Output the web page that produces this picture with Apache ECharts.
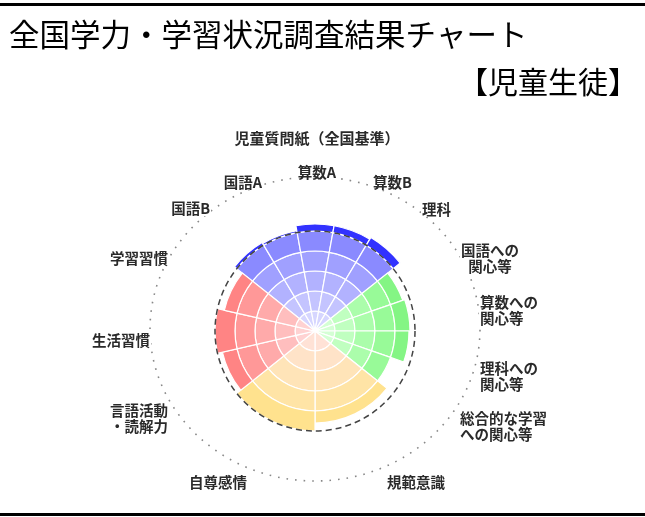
<!DOCTYPE html>
<html><head><meta charset="utf-8">
<script src="https://cdn.jsdelivr.net/npm/echarts@6/dist/echarts.min.js"></script>
<style>html,body{margin:0;padding:0;background:#fff}#c{width:645px;height:517px}</style>
</head><body><div id="c"></div>
<script>
// ---- data ----
const academicNames = ['国語B', '国語A', '算数A', '算数B', '理科'];
const academicValues = [103, 102, 107, 107, 109];
const interestNames = ['国語への関心等', '算数への関心等', '理科への関心等', '総合的な学習への関心等'];
const interestValues = [93, 95, 94, 80];
const attitudeNames = ['規範意識', '自尊感情'];
const attitudeValues = [92, 100];
const habitNames = ['言語活動・読解力', '生活習慣', '学習習慣'];
const habitValues = [95, 100, 93];
const baseline = 100;                 // 全国基準
const ringTicks = [0, 20, 40, 60, 80, 100];
const titleText = '全国学力・学習状況調査結果チャート';
const subtitleText = '【児童生徒】';
const legendText = '児童質問紙（全国基準）';

// ---- layout / style ----
const groups = [
  {names: academicNames, values: academicValues, spanUnits: 4,
   colors: ['#d6d6ff', '#c4c4ff', '#b2b2ff', '#a0a0ff', '#8a8aff'], over: '#3232ff'},
  {names: interestNames, values: interestValues, spanUnits: 3,
   colors: ['#d4ffd4', '#c0ffc0', '#abfdab', '#98fa98', '#84f584'], over: '#22cc22'},
  {names: attitudeNames, values: attitudeValues, spanUnits: 4,
   colors: ['#ffe2d6', '#ffe3c8', '#ffe4b8', '#ffe4a6', '#ffe28e'], over: '#ffb000'},
  {names: habitNames, values: habitValues, spanUnits: 3,
   colors: ['#ffd2d2', '#ffbebe', '#ffaaaa', '#ff9898', '#ff8484'], over: '#ff2020'}
];
const unitDeg = 360 / 14;
const startDeg = -2 * unitDeg;

const labelLayout = {
  '算数A': [317, 172, 'center'],
  '算数B': [372, 182, 'left'],
  '理科': [421, 209, 'left'],
  '国語への関心等': [490, 258, 'center', '国語への\n関心等'],
  '算数への関心等': [479, 310, 'left', '算数への\n関心等'],
  '理科への関心等': [479, 376, 'left', '理科への\n関心等'],
  '総合的な学習への関心等': [459, 426, 'left', '総合的な学習\nへの関心等'],
  '規範意識': [386, 482, 'left'],
  '自尊感情': [248, 482, 'right'],
  '言語活動・読解力': [169, 418, 'right', '言語活動\n・読解力'],
  '生活習慣': [151, 340, 'right'],
  '学習習慣': [169, 258, 'right'],
  '国語B': [211, 208, 'right'],
  '国語A': [263, 182, 'right']
};

const FONT = '"Noto Sans CJK JP", "Noto Sans", sans-serif';

// build sector data: [value, startAngle, endAngle, groupIndex]
const sectorData = [];
let a = startDeg;
groups.forEach((g, gi) => {
  const w = g.spanUnits * unitDeg / g.values.length;
  g.values.forEach((v, i) => {
    sectorData.push({name: g.names[i], value: [v, a, a + w, gi]});
    a += w;
  });
});

function renderItem(params, api) {
  const v = api.value(0), a0 = api.value(1), a1 = api.value(2), gi = api.value(3);
  const cs = params.coordSys;
  const p = api.coord([baseline, a0]);
  const s = Math.atan2(p[1] - cs.cy, p[0] - cs.cx);
  const e = s + (a1 - a0) * Math.PI / 180;
  const R = r => api.coord([r, a0])[2];
  const g = groups[gi];
  const children = [];
  for (let i = 0; i < ringTicks.length - 1; i++) {
    const lo = ringTicks[i], hi = Math.min(v, ringTicks[i + 1]);
    if (hi <= lo) break;
    children.push({type: 'sector',
      shape: {cx: cs.cx, cy: cs.cy, r0: R(lo), r: R(hi), startAngle: s, endAngle: e, clockwise: true},
      style: {fill: g.colors[i], stroke: '#fff', lineWidth: 1.2}});
  }
  if (v > baseline) {
    children.push({type: 'sector',
      shape: {cx: cs.cx, cy: cs.cy, r0: R(baseline), r: R(v), startAngle: s, endAngle: e, clockwise: true},
      style: {fill: g.over, stroke: '#fff', lineWidth: 1.2}});
  }
  return {type: 'group', children};
}

const graphics = [
  {type: 'rect', shape: {x: 0, y: 3, width: 645, height: 3}, style: {fill: '#000'}},
  {type: 'rect', shape: {x: 0, y: 513, width: 645, height: 3}, style: {fill: '#000'}},
  {type: 'ellipse', shape: {cx: 315, cy: 329, rx: 165, ry: 152}, z: 1,
   style: {fill: null, stroke: '#888', lineWidth: 1.6, lineDash: [1.6, 7]}}
];
groups.forEach(g => g.names.forEach(n => {
  const L = labelLayout[n];
  graphics.push({type: 'text', z: 5, style: {
    text: L[3] || n, x: L[0], y: L[1], align: L[2], verticalAlign: 'middle',
    font: 'bold 14.5px ' + FONT, fill: '#2a2a2a', lineHeight: 16,
    backgroundColor: '#fff', padding: [0, 1]
  }});
}));

const chart = echarts.init(document.getElementById('c'), null, {renderer: 'canvas'});
chart.setOption({
  animation: false,
  backgroundColor: '#fff',
  title: [
    {text: titleText, left: 4, top: 14, textStyle: {fontSize: 30.5, fontWeight: 'normal', color: '#000', fontFamily: FONT}},
    {text: subtitleText, right: 2, top: 62, textStyle: {fontSize: 30, fontWeight: 'normal', color: '#000', fontFamily: FONT}},
    {text: legendText, left: 312, textAlign: 'center', top: 126, textStyle: {fontSize: 15, fontWeight: 'bold', color: '#2a2a2a', fontFamily: FONT}}
  ],
  polar: {center: [315, 331], radius: 100},
  angleAxis: {type: 'value', min: 0, max: 360, startAngle: 90, clockwise: true, z: 6,
    axisLine: {show: true, lineStyle: {color: '#444', width: 1.5, type: [6, 4]}},
    axisTick: {show: false}, axisLabel: {show: false}, splitLine: {show: false}},
  radiusAxis: {type: 'value', min: 0, max: baseline, show: false,
    axisLine: {show: false}, axisTick: {show: false}, axisLabel: {show: false}, splitLine: {show: false}},
  series: [{
    type: 'custom', coordinateSystem: 'polar', renderItem, clip: false,
    dimensions: ['value', 'a0', 'a1', 'g'], encode: {radius: 0, angle: 1},
    data: sectorData, z: 2
  }],
  graphic: graphics
});
</script></body></html>
